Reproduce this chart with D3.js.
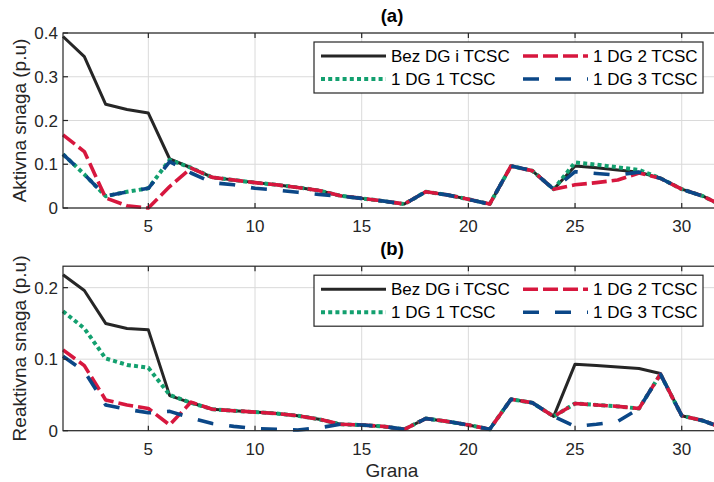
<!DOCTYPE html>
<html>
<head>
<meta charset="utf-8">
<script src="https://cdn.jsdelivr.net/npm/d3@7/dist/d3.min.js"></script>
<style>
  html, body { margin: 0; padding: 0; background: #fff; }
  svg { display: block; font-family: "Liberation Sans", Arial, Helvetica, sans-serif; }
</style>
</head>
<body>
<svg id="chart" width="714" height="482"></svg>
<script>
// Branch numbers 1..32
const grana = d3.range(1, 33);
const xTicks = [5, 10, 15, 20, 25, 30];

// (a) Active power flow per branch (p.u)
const pBez   = [0.392, 0.346, 0.237, 0.225, 0.217, 0.112, 0.092, 0.070, 0.064, 0.058, 0.053, 0.047, 0.040, 0.028, 0.022, 0.016, 0.009, 0.037, 0.030, 0.020, 0.009, 0.096, 0.085, 0.043, 0.096, 0.092, 0.087, 0.082, 0.068, 0.043, 0.027, 0.003];
const pDg1   = [0.123, 0.077, 0.027, 0.037, 0.045, 0.110, 0.092, 0.070, 0.064, 0.058, 0.053, 0.047, 0.040, 0.028, 0.022, 0.016, 0.009, 0.037, 0.030, 0.020, 0.009, 0.096, 0.085, 0.043, 0.104, 0.099, 0.093, 0.087, 0.068, 0.043, 0.027, 0.003];
const pDg2   = [0.167, 0.129, 0.023, 0.005, 0.000, 0.049, 0.091, 0.070, 0.064, 0.058, 0.053, 0.047, 0.040, 0.028, 0.022, 0.016, 0.009, 0.037, 0.030, 0.020, 0.009, 0.096, 0.085, 0.043, 0.053, 0.058, 0.064, 0.080, 0.068, 0.043, 0.027, 0.003];
const pDg3   = [0.123, 0.077, 0.027, 0.037, 0.045, 0.106, 0.080, 0.058, 0.053, 0.045, 0.041, 0.036, 0.031, 0.027, 0.022, 0.016, 0.009, 0.037, 0.030, 0.020, 0.009, 0.096, 0.085, 0.043, 0.083, 0.079, 0.075, 0.082, 0.068, 0.043, 0.027, 0.003];
const pTicks = [0, 0.1, 0.2, 0.3, 0.4];

// (b) Reactive power flow per branch (p.u)
const qBez   = [0.218, 0.196, 0.150, 0.143, 0.141, 0.049, 0.039, 0.030, 0.028, 0.026, 0.024, 0.021, 0.016, 0.009, 0.008, 0.006, 0.002, 0.017, 0.013, 0.008, 0.002, 0.044, 0.039, 0.020, 0.093, 0.091, 0.089, 0.087, 0.080, 0.021, 0.014, 0.003];
const qDg1   = [0.167, 0.143, 0.101, 0.092, 0.088, 0.050, 0.039, 0.030, 0.028, 0.026, 0.024, 0.021, 0.016, 0.009, 0.008, 0.006, 0.002, 0.017, 0.013, 0.008, 0.002, 0.044, 0.039, 0.020, 0.038, 0.036, 0.034, 0.031, 0.079, 0.021, 0.014, 0.003];
const qDg2   = [0.113, 0.091, 0.043, 0.036, 0.031, 0.008, 0.040, 0.030, 0.028, 0.026, 0.024, 0.021, 0.016, 0.009, 0.008, 0.006, 0.002, 0.017, 0.013, 0.008, 0.002, 0.044, 0.039, 0.020, 0.038, 0.036, 0.034, 0.031, 0.079, 0.021, 0.014, 0.003];
const qDg3   = [0.104, 0.083, 0.036, 0.030, 0.025, 0.027, 0.018, 0.010, 0.006, 0.003, 0.002, 0.001, 0.004, 0.009, 0.008, 0.006, 0.002, 0.017, 0.013, 0.008, 0.002, 0.044, 0.039, 0.020, 0.006, 0.009, 0.013, 0.031, 0.079, 0.021, 0.014, 0.003];
const qTicks = [0, 0.1, 0.2];

const seriesNames = ["Bez DG i TCSC", "1 DG 1 TCSC", "1 DG 2 TCSC", "1 DG 3 TCSC"];
const styles = {
  "Bez DG i TCSC": { color: "#262626", width: 3,   dash: null },
  "1 DG 1 TCSC":   { color: "#13a06f", width: 4,   dash: "4,3.2" },
  "1 DG 2 TCSC":   { color: "#d7173e", width: 3.6, dash: "15,5" },
  "1 DG 3 TCSC":   { color: "#0b4787", width: 3.6, dash: "16,16" }
};
// legend layout: two columns
const legendCols = [["Bez DG i TCSC", "1 DG 1 TCSC"], ["1 DG 2 TCSC", "1 DG 3 TCSC"]];

const svg = d3.select("#chart");
const ink = "#262626";
const fontTick = 17;

const x = d3.scaleLinear().domain([1, 32]).range([63, 724.4]);

function panel(opt) {
  const y = d3.scaleLinear().domain(opt.yDomain).range([opt.bottom, opt.top]);
  const g = svg.append("g");
  const [x0, x1] = x.range();

  // grid
  g.append("g").selectAll("line").data(xTicks).join("line")
    .attr("x1", d => x(d)).attr("x2", d => x(d))
    .attr("y1", opt.top).attr("y2", opt.bottom)
    .attr("stroke", "#dadada").attr("stroke-width", 1);
  g.append("g").selectAll("line").data(opt.yTicks).join("line")
    .attr("x1", x0).attr("x2", x1)
    .attr("y1", d => y(d)).attr("y2", d => y(d))
    .attr("stroke", "#dadada").attr("stroke-width", 1);

  // series
  const line = d3.line().x((d, i) => x(grana[i])).y(d => y(d));
  opt.series.forEach((vals, k) => {
    const s = styles[seriesNames[k]];
    g.append("path").datum(vals)
      .attr("d", line)
      .attr("fill", "none")
      .attr("stroke", s.color)
      .attr("stroke-width", s.width)
      .attr("stroke-linejoin", "round")
      .attr("stroke-dasharray", s.dash);
  });

  // frame
  g.append("rect").attr("x", x0).attr("y", opt.top)
    .attr("width", x1 - x0).attr("height", opt.bottom - opt.top)
    .attr("fill", "none").attr("stroke", ink).attr("stroke-width", 1.2);

  // inward ticks
  const tl = 5;
  g.append("g").selectAll("line").data(xTicks).join("line")
    .attr("x1", d => x(d)).attr("x2", d => x(d))
    .attr("y1", opt.bottom).attr("y2", opt.bottom - tl)
    .attr("stroke", ink).attr("stroke-width", 1.2);
  g.append("g").selectAll("line").data(xTicks).join("line")
    .attr("x1", d => x(d)).attr("x2", d => x(d))
    .attr("y1", opt.top).attr("y2", opt.top + tl)
    .attr("stroke", ink).attr("stroke-width", 1.2);
  g.append("g").selectAll("line").data(opt.yTicks).join("line")
    .attr("x1", x0).attr("x2", x0 + tl)
    .attr("y1", d => y(d)).attr("y2", d => y(d))
    .attr("stroke", ink).attr("stroke-width", 1.2);

  // tick labels
  g.append("g").selectAll("text").data(xTicks).join("text")
    .attr("x", d => x(d)).attr("y", opt.bottom + 24)
    .attr("text-anchor", "middle").attr("font-size", fontTick).attr("fill", ink)
    .text(d => d);
  g.append("g").selectAll("text").data(opt.yTicks).join("text")
    .attr("x", x0 - 5).attr("y", d => y(d)).attr("dy", "0.36em")
    .attr("text-anchor", "end").attr("font-size", fontTick).attr("fill", ink)
    .text(d => d3.format("~g")(d));

  // y label
  g.append("text")
    .attr("transform", `translate(${opt.yLabelX},${(opt.top + opt.bottom) / 2}) rotate(-90)`)
    .attr("text-anchor", "middle").attr("dy", "0.36em")
    .attr("font-size", 19).attr("fill", ink)
    .text(opt.yLabel);

  // title
  g.append("text")
    .attr("x", 392).attr("y", opt.top - 11)
    .attr("text-anchor", "middle").attr("font-size", 18.5).attr("font-weight", "bold")
    .attr("fill", "#000")
    .text(opt.title);

  // legend
  const lb = { x: 314, y: opt.top + 9, w: 389, h: 51 };
  const lg = g.append("g");
  lg.append("rect").attr("x", lb.x).attr("y", lb.y).attr("width", lb.w).attr("height", lb.h)
    .attr("fill", "#fff").attr("stroke", ink).attr("stroke-width", 1.2);
  const colX = [321, 523];
  legendCols.forEach((col, ci) => {
    col.forEach((name, ri) => {
      const s = styles[name];
      const yy = lb.y + 14 + ri * 23;
      lg.append("line")
        .attr("x1", colX[ci]).attr("x2", colX[ci] + 65)
        .attr("y1", yy).attr("y2", yy)
        .attr("stroke", s.color).attr("stroke-width", s.width)
        .attr("stroke-dasharray", s.dash);
      lg.append("text")
        .attr("x", colX[ci] + 70).attr("y", yy).attr("dy", "0.36em")
        .attr("font-size", fontTick).attr("fill", "#000")
        .text(name);
    });
  });
}

panel({
  top: 33, bottom: 208, yDomain: [0, 0.4], yTicks: pTicks,
  series: [pBez, pDg1, pDg2, pDg3],
  yLabel: "Aktivna snaga (p.u)", yLabelX: 19, title: "(a)"
});
panel({
  top: 266.2, bottom: 430.7, yDomain: [0, 0.23], yTicks: qTicks,
  series: [qBez, qDg1, qDg2, qDg3],
  yLabel: "Reaktivna snaga (p.u)", yLabelX: 19, title: "(b)"
});

// shared x label
svg.append("text")
  .attr("x", 392).attr("y", 477)
  .attr("text-anchor", "middle").attr("font-size", 19).attr("fill", ink)
  .text("Grana");
</script>
</body>
</html>
